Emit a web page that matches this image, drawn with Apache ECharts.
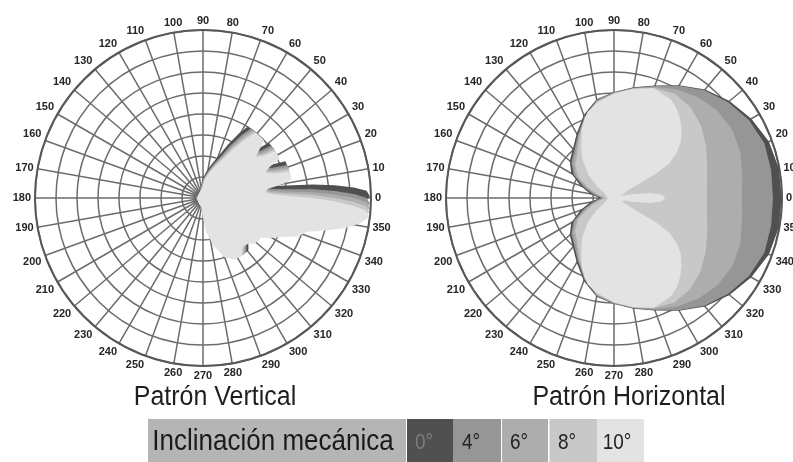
<!DOCTYPE html>
<html>
<head>
<meta charset="utf-8">
<script src="https://cdn.jsdelivr.net/npm/echarts@6/dist/echarts.min.js"></script>
<style>
html,body{margin:0;padding:0;background:#fff;}
#chart{width:793px;height:462px;}
</style>
</head>
<body>
<div id="chart"></div>
<script>
// ---------- data ----------
const angleLabels = ['0','10','20','30','40','50','60','70','80','90','100','110','120','130','140','150','160','170',
  '180','190','200','210','220','230','240','250','260','270','280','290','300','310','320','330','340','350'];
const tiltLabels = ['0°','4°','6°','8°','10°'];
const tiltColors = ['#505050','#969696','#adadad','#c8c8c8','#e3e3e3'];
const titles = ['Patrón Vertical','Patrón Horizontal'];
const legendTitle = 'Inclinación mecánica';

// Vertical pattern: radius (rings) of the pattern outline, and its angle (deg) for each tilt
const vertRadius = [0.3,0.35,0.45,0.8,1.6,2.3,3.0,3.3,3.3,3.0,3.05,3.3,3.3,3.7,4.1,4.9,5.2,6.0,6.9,7.6,7.95,7.8,7.2,6.3,
  5.25,4.0,3.3,3.0,3.1,3.9,4.3,4.3,3.6,3.2,3.5,4.1,4.1,3.5,3.2,3.6,4.0,4.0,3.5,2.8,2.2,1.7,1.3,0.9,0.5,0.35,0.3];
const vertAngle0 = [187,247,267,275,282,289,297,304,311,316,321,326,332,336,340,345,349,352,355,358,0.5,2.5,4,5.5,
  7,8.5,10,12,15,17,19,24,26,29,32,34,40,42,45,48,50,58,61,65,69,75,82,92,102,117,187];
const vertAngle4 = [184.5,244.5,264.5,272.5,279.5,286.5,294.5,301.5,308.5,313.5,318.5,323.5,329.5,333.5,337.5,342.5,346.5,349.5,352.5,355.5,358,0,1.5,3,
  4.5,6,7.5,9.5,12.5,14.5,16.5,21.5,23.5,26.5,29.5,31.5,37.5,39.5,42.5,45.5,47.5,55.5,58.5,62.5,66.5,72.5,79.5,89.5,99.5,114.5,184.5];
const vertAngle6 = [183,243,263,271,278,285,293,300,307,312,317,322,328,332,336,341,345,348,351,354,356.5,358.5,0,1.5,
  3,4.5,6,8,11,13,15,20,22,25,28,30,36,38,41,44,46,54,57,61,65,71,78,88,98,113,183];
const vertAngle8 = [181.5,241.5,261.5,269.5,276.5,283.5,291.5,298.5,305.5,310.5,315.5,320.5,326.5,330.5,334.5,339.5,343.5,346.5,349.5,352.5,355,357,358.5,0,
  1.5,3,4.5,6.5,9.5,11.5,13.5,18.5,20.5,23.5,26.5,28.5,34.5,36.5,39.5,42.5,44.5,52.5,55.5,59.5,63.5,69.5,76.5,86.5,96.5,111.5,181.5];
const vertAngle10 = [180,240,260,268,275,282,290,297,304,309,314,319,325,329,333,338,342,345,348,351,353.5,355.5,357,358.5,
  0,1.5,3,5,8,10,12,17,19,22,25,27,33,35,38,41,43,51,54,58,62,68,75,85,95,110,180];

// Horizontal pattern
const horizAngles = [180,190,200,210,220,230,240,250,260,270,280,290,300,310,320,330,340,350,0,10,20,30,40,50,60,70,80,90,100,110,120,130,140,150,160,170,180];
const horiz0 = [0.7,1.15,1.7,2.35,2.75,3.05,3.55,4.2,4.78,5.05,5.35,5.7,6.2,6.75,7.18,7.55,7.85,7.98,7.98,7.98,7.85,7.55,7.18,6.75,6.2,5.7,5.35,5.05,4.78,4.2,3.55,3.05,2.75,2.35,1.7,1.15,0.7];
const horiz4 = [0.6,1.0,1.55,2.22,2.65,2.95,3.45,4.12,4.74,5.03,5.33,5.68,6.17,6.7,7.1,7.42,7.62,7.6,7.57,7.6,7.62,7.42,7.1,6.7,6.17,5.68,5.33,5.03,4.74,4.12,3.45,2.95,2.65,2.22,1.55,1.0,0.6];
const horiz6 = [0.5,0.85,1.4,2.1,2.55,2.85,3.38,4.08,4.7,5.0,5.3,5.62,5.98,6.25,6.45,6.5,6.4,6.2,6.1,6.2,6.4,6.5,6.45,6.25,5.98,5.62,5.3,5.0,4.7,4.08,3.38,2.85,2.55,2.1,1.4,0.85,0.5];
const horiz8 = [0.4,0.7,1.2,1.95,2.42,2.72,3.3,4.04,4.67,4.98,5.28,5.58,5.75,5.65,5.4,5.05,4.72,4.5,4.43,4.5,4.72,5.05,5.4,5.65,5.75,5.58,5.28,4.98,4.67,4.04,3.3,2.72,2.42,1.95,1.2,0.7,0.4];
const horiz10 = [[180,0.3],[190,0.3],[200,0.4],[210,0.6],[215,1.0],[222,1.65],[230,2.3],[235,2.7],[240,3.1],[245,3.65],[250,4.05],[253,4.3],[260,4.6],[270,4.98],[280,5.28],[290,5.56],[300,5.42],[305,5.2],[310,4.9],[315,4.55],[320,4.15],[324,3.7],[328,3.1],[330,2.3],[332,0.7],[336,0.4],[342,0.35],[346,0.5],[349,1.0],[352,1.75],[356,2.3],[0,2.43],[4,2.3],[8,1.75],[11,1.0],[14,0.5],[18,0.35],[24,0.4],[28,0.7],[30,2.3],[32,3.1],[36,3.7],[40,4.15],[45,4.55],[50,4.9],[55,5.2],[60,5.42],[70,5.56],[80,5.28],[90,4.98],[100,4.6],[107,4.3],[110,4.05],[115,3.65],[120,3.1],[125,2.7],[130,2.3],[138,1.65],[145,1.0],[150,0.6],[160,0.4],[170,0.3],[180,0.3]];

// ---------- chart ----------
const FONT = '"Liberation Sans", Arial, sans-serif';
const chart = echarts.init(document.getElementById('chart'), null, {renderer: 'canvas'});

const vertSets = [vertAngle0, vertAngle4, vertAngle6, vertAngle8, vertAngle10]
  .map(angles => angles.map((a, i) => [a, vertRadius[i]]));
const horizSets = [
  horizAngles.map((a, i) => [a, horiz0[i]]),
  horizAngles.map((a, i) => [a, horiz4[i]]),
  horizAngles.map((a, i) => [a, horiz6[i]]),
  horizAngles.map((a, i) => [a, horiz8[i]]),
  horiz10
];

function mkSeries(pairs, polarIndex, k) {
  return {
    type: 'line', coordinateSystem: 'polar', polarIndex: polarIndex,
    name: tiltLabels[k],
    data: pairs.map(p => [p[1], p[0]]),
    showSymbol: false, symbol: 'none', smooth: false, silent: true, clip: false,
    lineStyle: {width: 0, opacity: 0},
    areaStyle: {color: tiltColors[k], opacity: 1}
  };
}
const series = [];
vertSets.forEach((s, k) => series.push(mkSeries(s, 0, k)));
horizSets.forEach((s, k) => series.push(mkSeries(s, 1, k)));

const gridColor = '#6c6c6c';
function angleAxis(i) {
  return {
    polarIndex: i, type: 'value', min: 0, max: 360, interval: 10,
    startAngle: 0, clockwise: false,
    axisLine: {show: true, lineStyle: {color: '#585858', width: 2}},
    axisTick: {show: false},
    axisLabel: {
      show: true, margin: 4, fontSize: 11, fontWeight: 'bold', color: '#262626', fontFamily: FONT,
      formatter: v => angleLabels[Math.round(v / 10)] || ''
    },
    splitLine: {show: true, lineStyle: {color: gridColor, width: 1.5}}
  };
}
function radiusAxis(i) {
  return {
    polarIndex: i, type: 'value', min: 0, max: 8, interval: 1,
    axisLine: {show: false}, axisTick: {show: false}, axisLabel: {show: false},
    splitLine: {show: true, lineStyle: {color: gridColor, width: 1.5}}
  };
}

const graphic = [];
// titles
graphic.push({type: 'text', x: 215, y: 397, scaleY: 1.1, silent: true,
  style: {text: titles[0], font: '25px ' + FONT, fill: '#1e1e1e', align: 'center', verticalAlign: 'middle'}});
graphic.push({type: 'text', x: 629, y: 397, scaleY: 1.1, silent: true,
  style: {text: titles[1], font: '25px ' + FONT, fill: '#1e1e1e', align: 'center', verticalAlign: 'middle'}});
// legend bar
graphic.push({type: 'rect', silent: true, shape: {x: 148, y: 419, width: 258, height: 45}, style: {fill: '#b5b5b5'}});
graphic.push({type: 'text', x: 273, y: 442, scaleY: 1.15, silent: true,
  style: {text: legendTitle, font: '26px ' + FONT, fill: '#1a1a1a', align: 'center', verticalAlign: 'middle'}});
const swX = [407, 453, 502, 549.5, 597];
const swW = [46, 48, 46, 47.5, 47];
const swTextX = [424, 471, 519, 567, 617];
tiltLabels.forEach((lab, k) => {
  graphic.push({type: 'rect', silent: true, shape: {x: swX[k], y: 419, width: swW[k], height: 45}, style: {fill: tiltColors[k]}});
  graphic.push({type: 'text', x: swTextX[k], y: 443, scaleY: 1.15, silent: true,
    style: {text: lab, font: '19px ' + FONT, fill: k === 0 ? '#7c7c7c' : '#222', align: 'center', verticalAlign: 'middle'}});
});

chart.setOption({
  animation: false,
  backgroundColor: '#ffffff',
  polar: [
    {center: [203, 198], radius: 168},
    {center: [614, 198], radius: 168}
  ],
  angleAxis: [angleAxis(0), angleAxis(1)],
  radiusAxis: [radiusAxis(0), radiusAxis(1)],
  series: series,
  graphic: graphic
});
</script>
</body>
</html>
